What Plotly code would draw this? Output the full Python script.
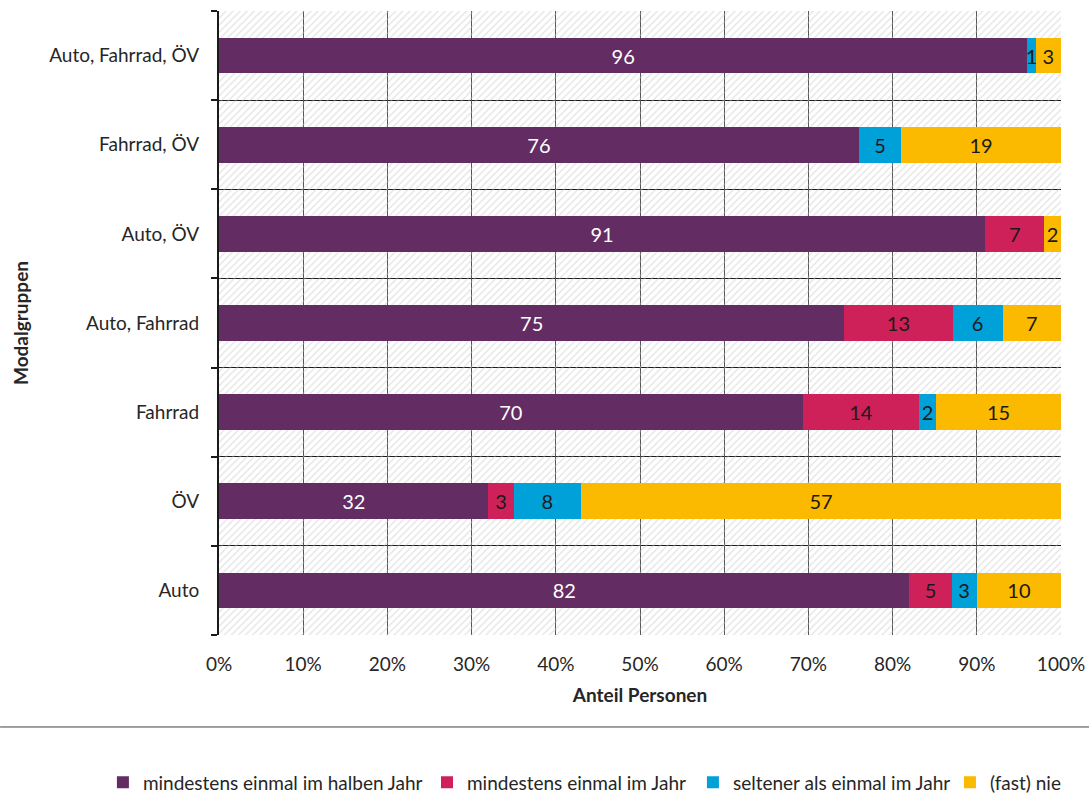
import plotly.graph_objects as go

# Modal groups, bottom to top
groups = ["Auto", "ÖV", "Fahrrad", "Auto, Fahrrad", "Auto, ÖV", "Fahrrad, ÖV", "Auto, Fahrrad, ÖV"]

# Share of persons per frequency class (None = no share)
halbjahr = [82, 32, 70, 75, 91, 76, 96]
jahr = [5, 3, 14, 13, 7, None, None]
seltener = [3, 8, 2, 6, None, 5, 1]
nie = [10, 57, 15, 7, 2, 19, 3]

series = [
    ("mindestens einmal im halben Jahr", halbjahr, "#632c62", "#ffffff"),
    ("mindestens einmal im Jahr", jahr, "#cf2159", "#1a1a1a"),
    ("seltener als einmal im Jahr", seltener, "#00a0d9", "#1a1a1a"),
    ("(fast) nie", nie, "#fbb900", "#1a1a1a"),
]

tick_pct = list(range(0, 101, 10))
FONT = "Lato"
pos = list(range(len(groups)))

# One legend box per series so the entries can sit in a single row under the separator
legend_ids = ["legend", "legend2", "legend3", "legend4"]
legend_x = [0.0945, 0.3921, 0.6363, 0.8723]

fig = go.Figure()

# Hatched plot background, one full-width band per group
fig.add_trace(go.Bar(
    x=[100] * len(groups), y=pos, orientation="h", width=1, base=0,
    marker=dict(color="rgba(0,0,0,0)", line=dict(width=0),
                pattern=dict(shape="/", fgcolor="#c6c6c6", bgcolor="rgba(0,0,0,0)",
                             size=5, solidity=0.25)),
    showlegend=False, hoverinfo="skip",
))

# Stacked shares, normalised to 100 % per group
for (name, vals, color, tcolor), lid in zip(series, legend_ids):
    fig.add_trace(go.Bar(
        name=name, x=vals, y=pos, orientation="h", width=0.4,
        xaxis="x2", yaxis="y2", legend=lid,
        marker=dict(color=color, line=dict(width=0)),
        text=["" if v is None else str(v) for v in vals],
        texttemplate="%{text}", textposition="inside", insidetextanchor="middle",
        textangle=0, constraintext="none",
        textfont=dict(family=FONT, size=20, color=tcolor),
    ))

legend_style = dict(orientation="h", xref="container", yref="container",
                    xanchor="left", y=0.016, yanchor="middle",
                    font=dict(size=19), itemwidth=30, bgcolor="rgba(0,0,0,0)")

fig.update_layout(
    width=1089, height=795,
    margin=dict(l=219, r=28, t=11, b=160),
    paper_bgcolor="white", plot_bgcolor="white",
    barmode="stack", barnorm="percent",
    font=dict(family=FONT, size=19, color="#262626"),
    xaxis=dict(
        range=[0, 100], tickvals=tick_pct, ticktext=[f"{t}%" for t in tick_pct],
        showgrid=True, gridcolor="#555555", gridwidth=1, zeroline=False,
        ticks="outside", ticklen=12, tickcolor="rgba(0,0,0,0)",
        showline=False, tickfont=dict(size=19), automargin="height",
        title=dict(text="<b>Anteil Personen</b>", font=dict(size=19), standoff=14),
    ),
    yaxis=dict(
        range=[-0.5, len(groups) - 0.5], tickvals=pos, ticktext=groups,
        showgrid=False, zeroline=False,
        ticks="outside", ticklen=14, tickcolor="rgba(0,0,0,0)",
        showline=True, linecolor="#1a1a1a", linewidth=2,
        tickfont=dict(size=19),
        minor=dict(tickmode="array", tickvals=[p - 0.5 for p in pos] + [len(groups) - 0.5],
                   ticks="outside", ticklen=6, tickcolor="#1a1a1a", tickwidth=2,
                   showgrid=True, gridcolor="#1a1a1a", gridwidth=1),
        title=dict(text="<b>Modalgruppen</b>", font=dict(size=19), standoff=16),
    ),
    xaxis2=dict(range=[0, 100], overlaying="x", anchor="y", visible=False),
    yaxis2=dict(range=[-0.5, len(groups) - 0.5], overlaying="y", anchor="x", visible=False),
    shapes=[dict(type="line", xref="paper", yref="paper",
                 x0=-0.26, x1=1.04, y0=-0.1474, y1=-0.1474,
                 line=dict(color="#404040", width=1))],
)
for lid, lx in zip(legend_ids, legend_x):
    fig.update_layout({lid: dict(legend_style, x=lx)})

fig.write_html("out.html")
